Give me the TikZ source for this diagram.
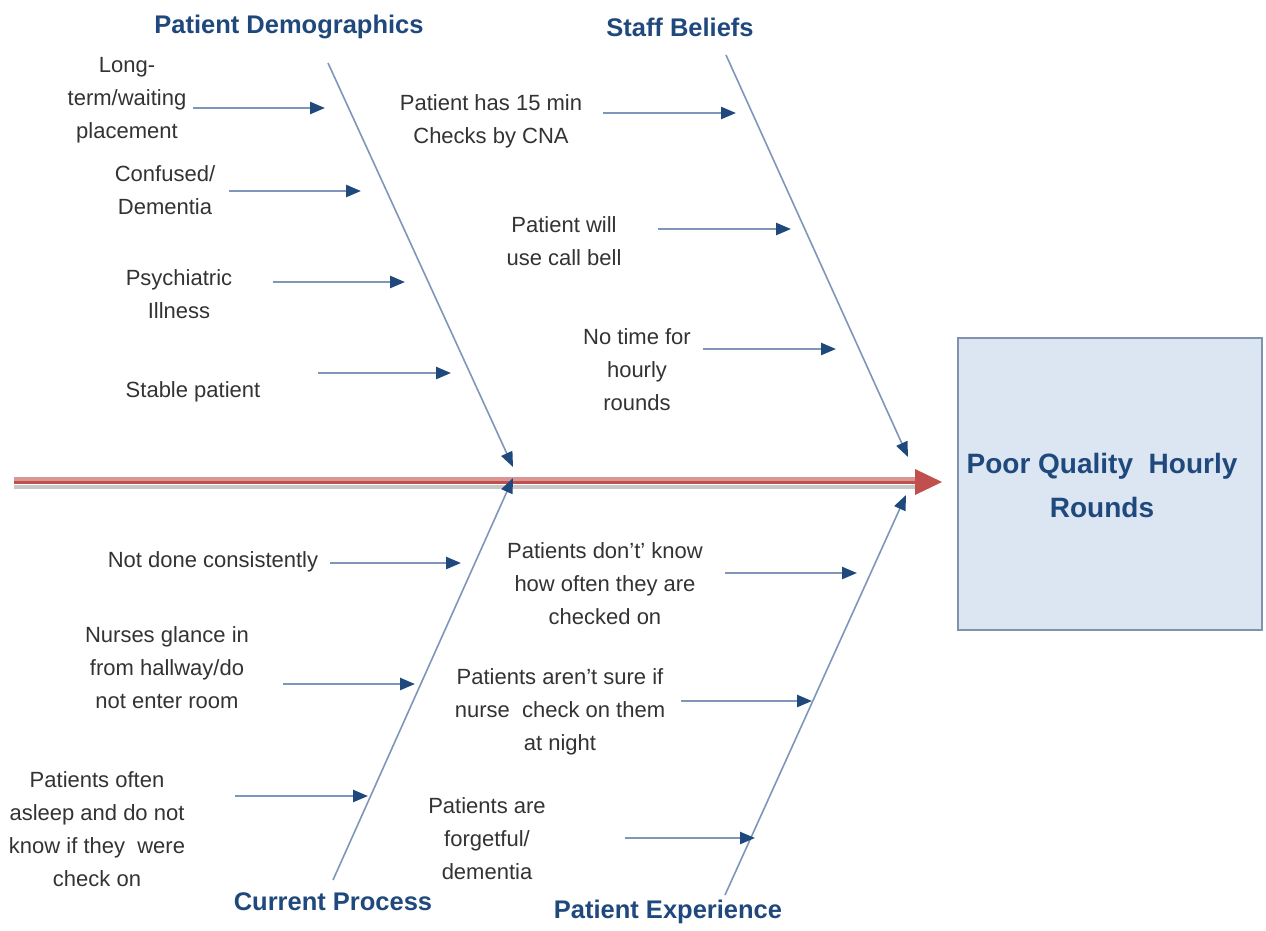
\documentclass[tikz,border=0pt]{standalone}
\usepackage{fontspec}
\setmainfont{Liberation Sans}
\usetikzlibrary{arrows.meta}
\definecolor{navy}{HTML}{1F497D}
\definecolor{boneblue}{HTML}{7F96BA}
\definecolor{txtgray}{HTML}{333333}
\definecolor{spinered}{HTML}{C0504D}
\definecolor{spinepale}{HTML}{DA9694}
\definecolor{spineshadow}{HTML}{C8C8C8}
\definecolor{boxfill}{HTML}{DCE6F2}
\definecolor{boxline}{HTML}{7F93AE}
\begin{document}
\begin{tikzpicture}[x=1pt,y=-1pt,
  cause/.style={align=center, text=txtgray, font=\fontsize{22}{33}\selectfont, inner sep=0pt},
  cat/.style={text=navy, font=\bfseries\fontsize{25.5}{30}\selectfont, inner sep=0pt},
  bone/.style={draw=boneblue, line width=1.6pt, -{Triangle[length=15pt,width=12pt,color=navy]}},
  sub/.style={draw=boneblue, line width=2.5pt, -{Triangle[length=15pt,width=12pt,color=navy]}},
  effectbox/.style={draw=boxline, fill=boxfill, line width=2.5pt, minimum width=304pt, minimum height=292pt, inner sep=0pt},
  effecttext/.style={align=center, text=navy, font=\bfseries\fontsize{28}{44}\selectfont, inner sep=0pt},
]
\useasboundingbox (0,0) rectangle (1266,930);
\fill[white] (0,0) rectangle (1266,930);

% effect box
\node[effectbox] (effect) at (1110,484) {};
\node[effecttext] (effectlabel) at (1102,485) {Poor Quality\ \ Hourly\\Rounds};

% spine
\coordinate (spineL) at (14,482);
\coordinate (spineR) at (918,482);
\coordinate (spineTip) at (942,482);
\draw[spineshadow, line width=4pt, transform canvas={yshift=-5pt}] (spineL) -- (spineR);
\draw[spinepale, line width=7pt, transform canvas={yshift=1.5pt}] (spineL) -- (spineR);
\draw[spinered, line width=3pt, transform canvas={yshift=-0.5pt}] (spineL) -- (spineR);
\fill[spinered] (915,469) -- (spineTip) -- (915,495) -- cycle;

% category labels
\node[cat] (pd) at (289,27) {Patient Demographics};
\node[cat] (sb) at (680,27) {Staff Beliefs};
\node[cat] (cp) at (333,902) {Current Process};
\node[cat] (pe) at (668,912) {Patient Experience};

% bones
\coordinate (pdTop) at (328,63);  \coordinate (pdTip) at (513,467);
\coordinate (sbTop) at (726,55);  \coordinate (sbTip) at (908,457);
\coordinate (cpBot) at (333,880); \coordinate (cpTip) at (513,478);
\coordinate (peBot) at (725,895); \coordinate (peTip) at (906,495);
\draw[bone] (pdTop) -- (pdTip);
\draw[bone] (sbTop) -- (sbTip);
\draw[bone] (cpBot) -- (cpTip);
\draw[bone] (peBot) -- (peTip);

% Patient Demographics causes
\node[cause] (c1) at (127,100) {Long-\\term/waiting\\placement};
\coordinate (c1s) at (193,108); \coordinate (c1e) at (325,108);
\draw[sub] (c1s) -- (c1e);
\node[cause] (c2) at (165,190) {Confused/\\Dementia};
\coordinate (c2s) at (229,191); \coordinate (c2e) at (361,191);
\draw[sub] (c2s) -- (c2e);
\node[cause] (c3) at (179,294) {Psychiatric\\Illness};
\coordinate (c3s) at (273,282); \coordinate (c3e) at (405,282);
\draw[sub] (c3s) -- (c3e);
\node[cause] (c4) at (193,392) {Stable patient};
\coordinate (c4s) at (318,373); \coordinate (c4e) at (451,373);
\draw[sub] (c4s) -- (c4e);

% Staff Beliefs causes
\node[cause] (s1) at (491,121) {Patient has 15 min\\Checks by CNA};
\coordinate (s1s) at (603,113); \coordinate (s1e) at (736,113);
\draw[sub] (s1s) -- (s1e);
\node[cause] (s2) at (564,241) {Patient will\\use call bell};
\coordinate (s2s) at (658,229); \coordinate (s2e) at (791,229);
\draw[sub] (s2s) -- (s2e);
\node[cause] (s3) at (637,370) {No time for\\hourly\\rounds};
\coordinate (s3s) at (703,349); \coordinate (s3e) at (836,349);
\draw[sub] (s3s) -- (s3e);

% Current Process causes
\node[cause] (p1) at (213,562) {Not done consistently};
\coordinate (p1s) at (330,563); \coordinate (p1e) at (461,563);
\draw[sub] (p1s) -- (p1e);
\node[cause] (p2) at (167,668) {Nurses glance in\\from hallway/do\\not enter room};
\coordinate (p2s) at (283,684); \coordinate (p2e) at (415,684);
\draw[sub] (p2s) -- (p2e);
\node[cause] (p3) at (97,829) {Patients often\\asleep and do not\\know if they\ \ were\\check on};
\coordinate (p3s) at (235,796); \coordinate (p3e) at (368,796);
\draw[sub] (p3s) -- (p3e);

% Patient Experience causes
\node[cause] (e1) at (605,584) {Patients don't' know\\how often they are\\checked on};
\coordinate (e1s) at (725,573); \coordinate (e1e) at (857,573);
\draw[sub] (e1s) -- (e1e);
\node[cause] (e2) at (560,712) {Patients aren't sure if\\nurse\ \ check on them\\at night};
\coordinate (e2s) at (681,701); \coordinate (e2e) at (812,701);
\draw[sub] (e2s) -- (e2e);
\node[cause] (e3) at (487,839) {Patients are\\forgetful/\\dementia};
\coordinate (e3s) at (625,838); \coordinate (e3e) at (755,838);
\draw[sub] (e3s) -- (e3e);
\end{tikzpicture}
\end{document}
